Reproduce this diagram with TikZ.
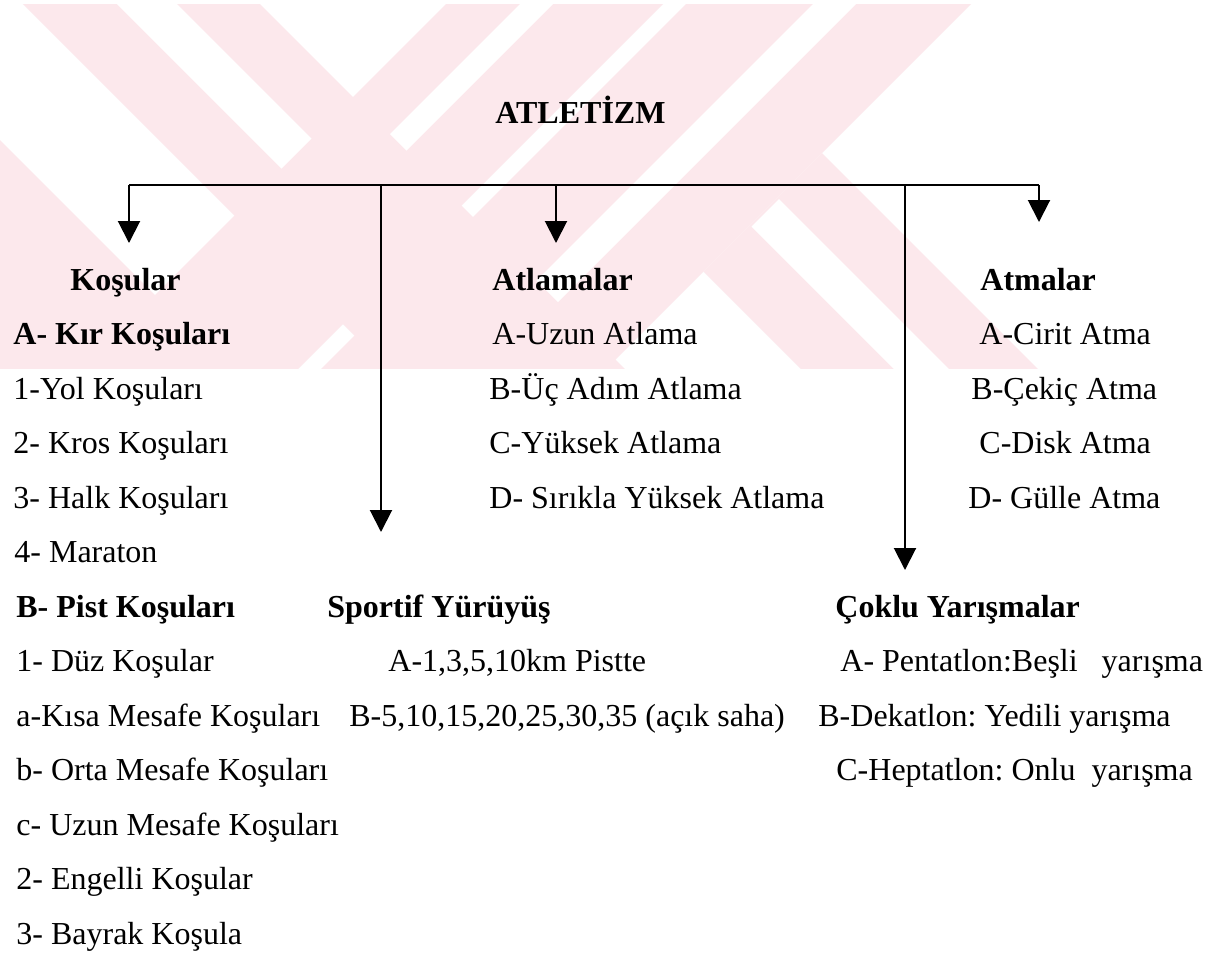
\documentclass[tikz,border=0pt]{standalone}
\usepackage{fontspec}
\setmainfont{Liberation Serif}
\usetikzlibrary{arrows.meta}
\definecolor{wm}{RGB}{252,232,236}
\frenchspacing
\begin{document}
\begin{tikzpicture}[x=0.5pt,y=-0.5pt,
  lbl/.style={anchor=base west,inner sep=0pt,font=\fontsize{16}{19}\selectfont},
  blbl/.style={anchor=base west,inner sep=0pt,font=\fontsize{16}{19}\selectfont\bfseries},
  conn/.style={line width=1.3pt,line join=miter},
  arr/.style={line width=1pt,-{Triangle[width=11pt,length=11pt]}}]
\useasboundingbox (0,0) rectangle (1228,955);
\fill[white] (0,0) rectangle (1228,955);
% watermark
\begin{scope}
\clip (0,4) rectangle (1228,368);
\fill[wm] (-140,0) -- (232,372) -- (-200,372) -- (-200,0) -- cycle;
\fill[wm] (19,0) -- (256,0) -- (628,372) -- (391,372) -- cycle;
\fill[wm] (450,0) -- (667,0) -- (295,372) -- (78,372) -- cycle;
\fill[wm] (690,0) -- (975,0) -- (603,372) -- (318,372) -- cycle;
\fill[wm] (703.5,271.5) -- (822,153) -- (1041,372) -- (804,372) -- cycle;
\fill[white] (113,0) -- (173,0) -- (311.5,138.5) -- (281.5,168.5) -- cycle;
\fill[white] (524,0) -- (557,0) -- (406.5,150.5) -- (390,134) -- cycle;
\fill[white] (817,0) -- (860,0) -- (558,302) -- (536.5,280.5) -- cycle;
\fill[white] (751.5,226.5) -- (779,199) -- (952,372) -- (897,372) -- cycle;
\end{scope}
% title
\node[blbl] (title) at (495,123) {ATLETİZM};
% connector coordinates
\coordinate (hl) at (129,185);
\coordinate (hr) at (1039,185);
\coordinate (jS) at (381,185);
\coordinate (jA) at (556,185);
\coordinate (jC) at (905,185);
\coordinate (tK) at (129,243);
\coordinate (tS) at (381,532);
\coordinate (tA) at (556,243);
\coordinate (tC) at (905,570);
\coordinate (tR) at (1039,222);
\draw[conn] (hr) -- (hl);
\draw[arr] (hl) -- (tK);
\draw[arr] (jS) -- (tS);
\draw[arr] (jA) -- (tA);
\draw[arr] (jC) -- (tC);
\draw[arr] (hr) -- (tR);
% left column
\node[blbl] (k0) at (70,290) {Koşular};
\node[blbl] (k1) at (13,344.5) {A- Kır Koşuları};
\node[lbl] (k2) at (13,399) {1-Yol Koşuları};
\node[lbl] (k3) at (13,453.5) {2- Kros Koşuları};
\node[lbl] (k4) at (13,508) {3- Halk Koşuları};
\node[lbl] (k5) at (14,562.5) {4- Maraton};
\node[blbl] (k6) at (16,617) {B- Pist Koşuları};
\node[lbl] (k7) at (16,671.5) {1- Düz Koşular};
\node[lbl] (k8) at (16,726) {a-Kısa Mesafe Koşuları};
\node[lbl] (k9) at (16,780.5) {b- Orta Mesafe Koşuları};
\node[lbl] (k10) at (16,835) {c- Uzun Mesafe Koşuları};
\node[lbl] (k11) at (16,889.5) {2- Engelli Koşular};
\node[lbl] (k12) at (16,944) {3- Bayrak Koşula};
% middle column
\node[blbl] (m0) at (492,290) {Atlamalar};
\node[lbl] (m1) at (492,344.5) {A-Uzun Atlama};
\node[lbl] (m2) at (489,399) {B-Üç Adım Atlama};
\node[lbl] (m3) at (489,453.5) {C-Yüksek Atlama};
\node[lbl] (m4) at (489,508) {D- Sırıkla Yüksek Atlama};
\node[blbl] (s0) at (327,617) {Sportif Yürüyüş};
\node[lbl] (s1) at (388,671.5) {A-1,3,5,10km Pistte};
\node[lbl] (s2) at (349,726) {B-5,10,15,20,25,30,35 (açık saha)};
% right column
\node[blbl] (r0) at (980,290) {Atmalar};
\node[lbl] (r1) at (979,344.5) {A-Cirit Atma};
\node[lbl] (r2) at (971,399) {B-Çekiç Atma};
\node[lbl] (r3) at (979,453.5) {C-Disk Atma};
\node[lbl] (r4) at (968,508) {D- Gülle Atma};
\node[blbl] (c0) at (835,617) {Çoklu Yarışmalar};
\node[lbl] (c1) at (840,671.5) {A- Pentatlon:Beşli\ \ \ yarışma};
\node[lbl] (c2) at (818,726) {B-Dekatlon: Yedili yarışma};
\node[lbl] (c3) at (836,780.5) {C-Heptatlon: Onlu\ \ yarışma};
\end{tikzpicture}
\end{document}
